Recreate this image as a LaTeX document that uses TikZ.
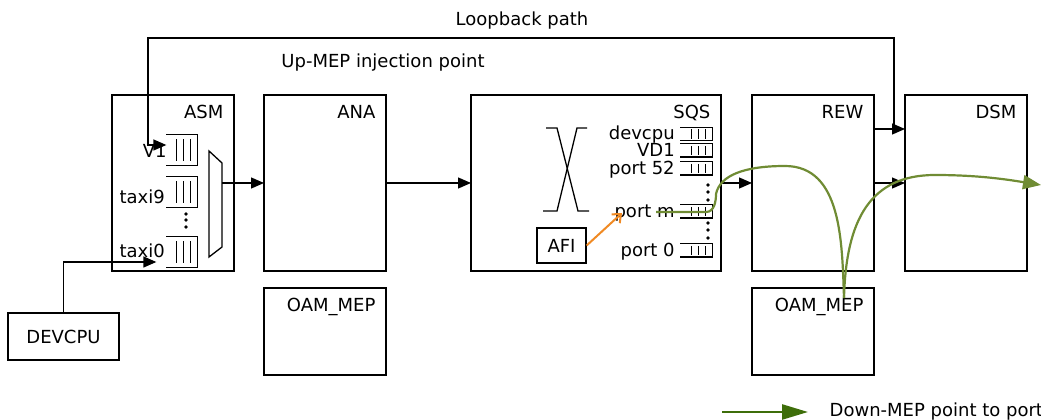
\documentclass[tikz,border=0pt]{standalone}
\usepackage{fontspec}
\setmainfont{DejaVu Sans}
\usetikzlibrary{positioning,arrows.meta}
\definecolor{mepgreen}{RGB}{112,140,52}
\definecolor{leggreen}{RGB}{62,110,10}
\definecolor{afiorange}{RGB}{240,138,36}
\begin{document}
\begin{tikzpicture}[x=1pt, y=1pt, >={Triangle[length=13pt,width=11pt]}, line width=1.3pt,
  font=\fontsize{18}{21}\selectfont,
  block/.style={draw, minimum width=122pt, minimum height=176pt, inner sep=0pt, outer sep=0pt},
  mepbox/.style={draw, minimum width=122pt, minimum height=87pt, inner sep=0pt, outer sep=0pt},
  title/.style={anchor=base east, inner sep=0pt},
  fifo/.style={minimum width=30pt, minimum height=30pt, inner sep=0pt},
  sfifo/.style={minimum width=31pt, minimum height=12pt, inner sep=0pt},
  qlabel/.style={anchor=base east, inner sep=0pt},
  mep/.style={draw=mepgreen, line width=2.2pt}]
\useasboundingbox (0,0) rectangle (1041,420);
\node[block] (ASM) at (173,237) {};
\node[block, right=30pt of ASM] (ANA) {};
\node[block, minimum width=250pt, right=85pt of ANA] (SQS) {};
\node[block, right=31pt of SQS] (REW) {};
\node[block, right=31pt of REW] (DSM) {};
\node[mepbox, below=17pt of ANA] (OAMa) {};
\node[mepbox, below=17pt of REW] (OAMb) {};
\node[draw, minimum width=111pt, minimum height=47pt] (DEVCPU) at (63.5,83.5) {DEVCPU};
\node[draw, minimum width=49pt, minimum height=35pt] (AFI) at (561.5,174.5) {AFI};
\foreach \b in {ASM,ANA,SQS,REW,DSM}
  \node[title] (\b-t) at ([xshift=-10pt,yshift=-24pt]\b.north east) {\b};
\node[title] (OAMa-t) at ([xshift=-10pt,yshift=-24pt]OAMa.north east) {OAM\_MEP};
\node[title] (OAMb-t) at ([xshift=-10pt,yshift=-24pt]OAMb.north east) {OAM\_MEP};
\node (lbText) at (522,399) {Loopback path};
\node (upText) at (383,357) {Up-MEP injection point};

\node[fifo] (qV1) at (182,270) {};
\node[fifo] (qT9) at (182,228) {};
\node[fifo] (qT0) at (182,168) {};
\node[qlabel] (qV1-l) at ([xshift=1pt,yshift=-8pt]qV1.west) {V1};
\node[qlabel] (qT9-l) at ([xshift=-1pt,yshift=-12pt]qT9.west) {taxi9};
\node[qlabel] (qT0-l) at ([xshift=-1pt,yshift=-6pt]qT0.west) {taxi0};
\foreach \y in {206,200,193} \fill (186,\y) circle (1.8pt);
\draw (209,269) -- (222,257) -- (222,173) -- (209,163) -- cycle;
\coordinate (mux) at (222,237);

\foreach \n/\y/\t in {sqC/286/devcpu, sqV/269.5/VD1, sq52/251.5/port 52, sqM/208.5/port m, sq0/169.5/port 0}{
  \node[sfifo] (\n) at (696.5,\y) {};
  \node[qlabel] (\n-l) at ([xshift=-5pt,yshift=-6pt]\n.west) {\t};
}
\foreach \y in {235,228,220,197,190,182} \fill (708,\y) circle (1.8pt);
\foreach \q/\g in {qV1/5, qT9/5, qT0/5, sqC/2, sqV/2, sq52/2, sqM/2, sq0/2}{
  \draw (\q.north west) -| (\q.south east) -- (\q.south west);
  \foreach \dx in {21,14,7}
    \draw ([xshift=-\dx pt,yshift=-\g pt]\q.north east) -- ([xshift=-\dx pt,yshift=\g pt]\q.south east);
}
\draw (546,292) -- (557,292) -- (578,209) -- (589,209);
\draw (587,292) -- (577,292) -- (557,209) -- (543,209);

\draw[->] (mux) -- (ANA.west);
\draw[->] (ANA) -- (SQS);
\draw[->] (SQS) -- (REW);
\draw[->] (REW) -- (DSM);
\draw[->] ([yshift=54pt]REW.east) -- ([yshift=54pt]DSM.west);
\coordinate (lb) at (894,291);
\draw[->] (lb) |- (148,382) |- ([yshift=5pt]qV1.west);
\draw[->] (DEVCPU.north) |- ([xshift=-10pt,yshift=-10pt]qT0.west);

\coordinate (afiTip) at (622,207);
\draw[draw=afiorange, line width=2pt, -{Straight Barb[length=7pt,width=12pt]}] (AFI.east) -- (afiTip);

\coordinate (gStart) at (656,208);
\coordinate (gMid) at ([xshift=31pt,yshift=-10pt]OAMb.north);
\coordinate (gEnd) at (1041,235);
\draw[mep] (gStart) -- (706,208) to[out=0,in=-90] (716,226) .. controls (720,245) and (745,254) .. (785,254) to[out=0,in=92] (gMid);
\draw[mep, -{Triangle[length=18pt,width=14pt]}] (gMid) .. controls (846,200) and (870,245) .. (935,245) .. controls (980,245) and (1010,240) .. (gEnd);

\coordinate (lgA) at (722,8);
\node[anchor=base west, inner sep=0pt] (lgText) at (829,3) {Down-MEP point to port};
\draw[draw=leggreen, line width=2.5pt, -{Triangle[length=26pt,width=15pt]}, shorten >=21pt] (lgA) -- (lgA -| lgText.west);
\end{tikzpicture}
\end{document}
